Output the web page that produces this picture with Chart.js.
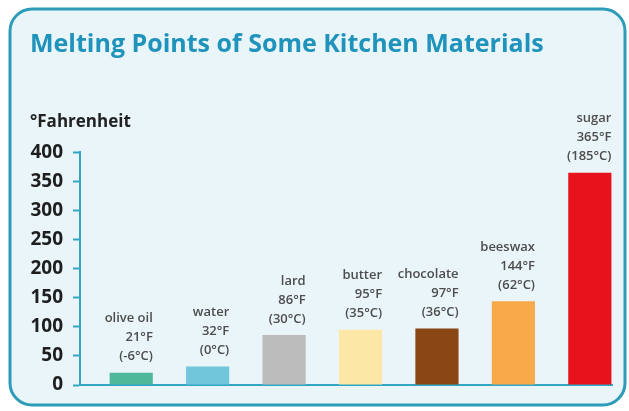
<!DOCTYPE html>
<html>
<head>
<meta charset="utf-8">
<script src="https://cdn.jsdelivr.net/npm/chart.js@4/dist/chart.umd.min.js"></script>
<style>
  html, body { margin: 0; padding: 0; background: #ffffff; }
  #c { display: block; }
</style>
</head>
<body>
<canvas id="c" width="629" height="411"></canvas>
<script>
// ---- data ----
const chartTitle = 'Melting Points of Some Kitchen Materials';
const unitLabel = '°Fahrenheit';
const materials = ['olive oil', 'water', 'lard', 'butter', 'chocolate', 'beeswax', 'sugar'];
const fahrenheit = [21, 32, 86, 95, 97, 144, 365];
const celsius = [-6, 0, 30, 35, 36, 62, 185];
const yTickMin = 0;
const yTickMax = 400;
const yTickStep = 50;

// ---- styles ----
const barColors = ['#4fb89b', '#72c6dc', '#bcbcbc', '#fde7a6', '#8a4614', '#f8a94a', '#e8121c'];
const teal = '#33a6c4';
const fontFamily = '"Open Sans", "DejaVu Sans", sans-serif';

const points = fahrenheit.map((v, i) => ({ x: i, y: v }));

const framePlugin = {
  id: 'frame',
  beforeDraw(chart) {
    const ctx = chart.ctx;
    ctx.save();
    ctx.fillStyle = '#ffffff';
    ctx.fillRect(0, 0, chart.width, chart.height);
    const x = 10, y = 9, w = 615, h = 396, r = 22;
    ctx.beginPath();
    ctx.roundRect(x, y, w, h, r);
    ctx.fillStyle = '#eaf5f9';
    ctx.fill();
    ctx.lineWidth = 3;
    ctx.strokeStyle = '#2c9cb8';
    ctx.stroke();
    ctx.restore();
  }
};

const barLabelPlugin = {
  id: 'barLabels',
  afterDatasetsDraw(chart) {
    const ctx = chart.ctx;
    const meta = chart.getDatasetMeta(0);
    ctx.save();
    ctx.font = '600 13px ' + fontFamily;
    ctx.fillStyle = '#4d4d4d';
    ctx.textAlign = 'right';
    ctx.textBaseline = 'middle';
    meta.data.forEach((bar, i) => {
      const props = bar.getProps(['x', 'y', 'width'], true);
      const right = props.x + props.width / 2;
      const lines = [materials[i], fahrenheit[i] + '°F', '(' + celsius[i] + '°C)'];
      ctx.fillText(lines[0], right, props.y - 54);
      ctx.fillText(lines[1], right, props.y - 35);
      ctx.fillText(lines[2], right, props.y - 16);
    });
    ctx.restore();
  }
};

new Chart(document.getElementById('c'), {
  type: 'bar',
  data: {
    datasets: [{
      label: 'Melting point (°F)',
      data: points,
      backgroundColor: barColors,
      borderWidth: 0,
      categoryPercentage: 1,
      barPercentage: 0.565
    }]
  },
  options: {
    responsive: false,
    devicePixelRatio: 1,
    animation: false,
    layout: { padding: { left: 30, top: 10, right: 17, bottom: 26 } },
    plugins: {
      legend: { display: false },
      tooltip: { enabled: false },
      title: {
        display: true,
        text: chartTitle,
        align: 'start',
        color: '#1f93bb',
        font: { family: fontFamily, size: 25, weight: 'bold', lineHeight: 1.2 },
        padding: { top: 20, bottom: 0 }
      },
      subtitle: {
        display: true,
        text: unitLabel,
        align: 'start',
        color: '#222222',
        font: { family: fontFamily, size: 17, weight: 'bold', lineHeight: 1.2 },
        padding: { top: 52, bottom: 20 }
      }
    },
    scales: {
      x: {
        type: 'linear',
        offset: false,
        min: -0.67,
        max: 6.29,
        ticks: { display: false },
        grid: { display: false, offset: false },
        border: { display: true, color: teal, width: 2 },
        afterFit(s) { s.height = 0; }
      },
      y: {
        min: yTickMin,
        max: yTickMax,
        ticks: {
          stepSize: yTickStep,
          padding: 10,
          color: '#1e1e1e',
          font: { family: fontFamily, size: 19, weight: 'bold' }
        },
        grid: {
          display: true,
          drawOnChartArea: false,
          drawTicks: true,
          tickLength: 7,
          tickColor: teal,
          tickWidth: 2
        },
        border: { display: true, color: teal, width: 2 },
        afterFit(s) { s.width = 50; }
      }
    }
  },
  plugins: [framePlugin, barLabelPlugin]
});
</script>
</body>
</html>
